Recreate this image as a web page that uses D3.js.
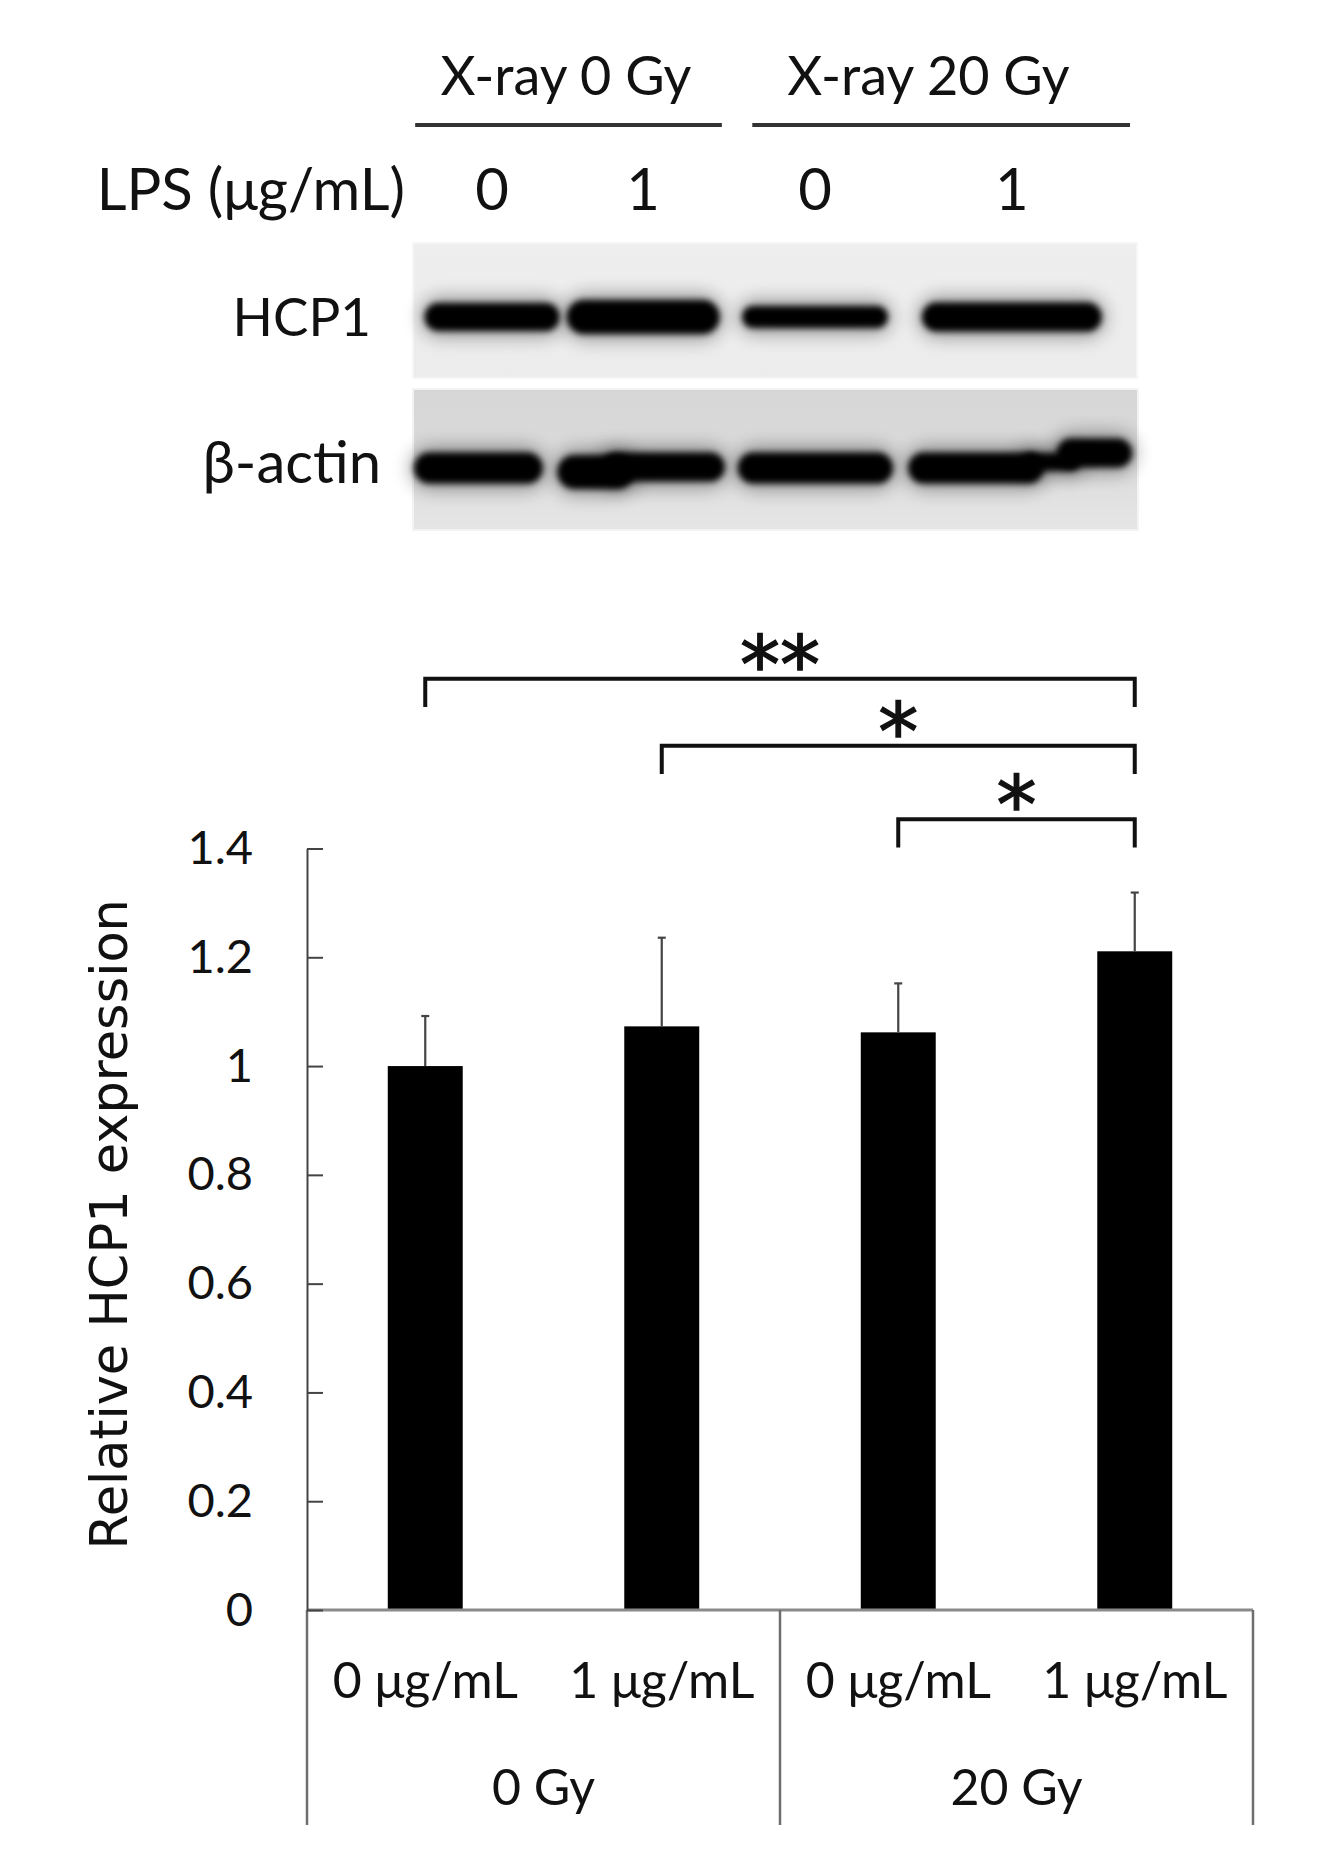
<!DOCTYPE html>
<html><head><meta charset="utf-8">
<script src="https://cdn.jsdelivr.net/npm/d3@7"></script>
<style>body{margin:0;background:#fff}svg{display:block}</style>
</head><body>
<script>
// ---------- chart data ----------
const categories = ["0 μg/mL", "1 μg/mL", "0 μg/mL", "1 μg/mL"];
const groups = ["0 Gy", "20 Gy"];
const values = [1.0, 1.073, 1.062, 1.211];
const errors = [0.092, 0.163, 0.090, 0.108];
const yTicks = [0, 0.2, 0.4, 0.6, 0.8, 1.0, 1.2, 1.4];
const yTickLabels = ["0", "0.2", "0.4", "0.6", "0.8", "1", "1.2", "1.4"];
const yLabel = "Relative HCP1 expression";
const sigFrom = [0, 1, 2];
const sigTo = [3, 3, 3];
const sigLevel = [1.712, 1.589, 1.454];
const sigText = ["**", "*", "*"];
// ---------- blot annotation ----------
const xrayHeaders = ["X-ray 0 Gy", "X-ray 20 Gy"];
const lpsLabel = "LPS (μg/mL)";
const lpsDoses = ["0", "1", "0", "1"];
const blotRows = ["HCP1", "β-actin"];
// band extents in % of blot width, thickness in px
const hcpStart = [1.6, 21.2, 45.4, 70.2];
const hcpEnd = [20.2, 42.3, 65.5, 95.0];
const hcpThick = [28, 34, 22, 29];
const actStart = [-1, 19.9, 26.0, 44.8, 68.3, 88.8];
const actEnd = [17.9, 30.5, 43.0, 66.2, 87.0, 99.2];
const actThick = [31, 34, 29, 31, 31, 29];
const actShift = [0, 4, -1, 0, 0, -15];

const W = 1317, H = 1853;
const FONT = "Lato, 'Open Sans', sans-serif";
const svg = d3.select("body").append("svg").attr("width", W).attr("height", H)
  .style("background", "#fff");

const defs = svg.append("defs");
defs.append("filter").attr("id", "blur").attr("x", "-20%").attr("y", "-80%").attr("width", "140%").attr("height", "260%")
  .append("feGaussianBlur").attr("stdDeviation", 3.4);
defs.append("filter").attr("id", "halo").attr("x", "-20%").attr("y", "-150%").attr("width", "140%").attr("height", "400%")
  .append("feGaussianBlur").attr("stdDeviation", 9);
const g1 = defs.append("linearGradient").attr("id", "bgH").attr("x1", 0).attr("y1", 0).attr("x2", 0).attr("y2", 1);
g1.append("stop").attr("offset", "0").attr("stop-color", "#eeeeee");
g1.append("stop").attr("offset", "1").attr("stop-color", "#ececec");
const g2 = defs.append("linearGradient").attr("id", "bgA").attr("x1", 0).attr("y1", 0).attr("x2", 0).attr("y2", 1);
g2.append("stop").attr("offset", "0").attr("stop-color", "#d6d6d6");
g2.append("stop").attr("offset", "0.45").attr("stop-color", "#dadada");
g2.append("stop").attr("offset", "1").attr("stop-color", "#e6e6e6");

// ---------- blot ----------
const blotX = d3.scaleLinear().domain([0, 100]).range([413, 1138]);
const hcpY = [243, 378], actY = [389, 530];
const hcpMid = 317, actMid = 468;

svg.append("rect").attr("x", blotX(0)).attr("y", hcpY[0]).attr("width", blotX(100) - blotX(0) - 1)
  .attr("height", hcpY[1] - hcpY[0]).attr("fill", "url(#bgH)").attr("stroke", "#f6f6f6").attr("stroke-width", 2);
svg.append("rect").attr("x", blotX(0)).attr("y", actY[0]).attr("width", blotX(100) - blotX(0))
  .attr("height", actY[1] - actY[0]).attr("fill", "url(#bgA)").attr("stroke", "#f3f3f3").attr("stroke-width", 2);

const blot = svg.append("g");
function band(x0, x1, cy, h) {
  blot.append("rect").attr("x", x0 - 4).attr("y", cy - h / 2 - 6).attr("width", x1 - x0 + 8).attr("height", h + 12)
    .attr("rx", (h + 12) / 2).attr("fill", "#000").attr("opacity", 0.35).attr("filter", "url(#halo)");
  blot.append("rect").attr("x", x0).attr("y", cy - h / 2).attr("width", x1 - x0).attr("height", h)
    .attr("rx", h / 2).attr("fill", "#000").attr("filter", "url(#blur)");
}
hcpStart.forEach((s, i) => band(blotX(s), blotX(hcpEnd[i]), hcpMid, hcpThick[i]));
actStart.forEach((s, i) => band(Math.max(blotX(s), blotX(0) + 1), blotX(actEnd[i]), actMid + actShift[i], actThick[i]));
band(blotX(84), blotX(92), actMid - 6, 18);

// headers
const headStart = [0.3, 46.8], headEnd = [42.6, 98.9], headMid = [21.1, 71.1];
xrayHeaders.forEach((t, i) => {
  svg.append("text").attr("x", blotX(headMid[i])).attr("y", 95).attr("text-anchor", "middle")
    .attr("font-family", FONT).attr("font-size", 54).attr("fill", "#111").text(t);
  svg.append("line").attr("x1", blotX(headStart[i])).attr("x2", blotX(headEnd[i])).attr("y1", 125).attr("y2", 125)
    .attr("stroke", "#333").attr("stroke-width", 4);
});
svg.append("text").attr("x", 405).attr("y", 210).attr("text-anchor", "end")
  .attr("font-family", FONT).attr("font-size", 58).attr("fill", "#111").text(lpsLabel);
lpsDoses.forEach((t, i) => {
  svg.append("text").attr("x", (blotX(hcpStart[i]) + blotX(hcpEnd[i])) / 2).attr("y", 210).attr("text-anchor", "middle")
    .attr("font-family", FONT).attr("font-size", 58).attr("fill", "#111").text(t);
});
svg.append("text").attr("x", 371).attr("y", 336).attr("text-anchor", "end")
  .attr("font-family", FONT).attr("font-size", 53).attr("fill", "#111").text(blotRows[0]);
svg.append("text").attr("x", 381).attr("y", 483).attr("text-anchor", "end")
  .attr("font-family", FONT).attr("font-size", 58).attr("fill", "#111").text(blotRows[1]);

// ---------- bar chart ----------
const x = d3.scaleBand().domain(d3.range(categories.length)).range([307, 1253])
  .paddingInner(0.683).paddingOuter(0.3415);
const y = d3.scaleLinear().domain([0, 1.4]).range([1610, 848.5]);
const step = x.step();
const x0 = x.range()[0], x1 = x.range()[1];

// bars
svg.append("g").selectAll("rect").data(values).join("rect")
  .attr("x", (d, i) => x(i)).attr("y", d => y(d))
  .attr("width", x.bandwidth()).attr("height", d => y(0) - y(d)).attr("fill", "#000");

// error bars (upper only)
const eb = svg.append("g").attr("stroke", "#444").attr("stroke-width", 2.2);
values.forEach((v, i) => {
  const cx = x(i) + x.bandwidth() / 2;
  eb.append("line").attr("x1", cx).attr("x2", cx).attr("y1", y(v)).attr("y2", y(v + errors[i]));
  eb.append("line").attr("x1", cx - 4).attr("x2", cx + 4).attr("y1", y(v + errors[i])).attr("y2", y(v + errors[i]));
});

// zero line / category table
svg.append("line").attr("x1", x0).attr("x2", x1).attr("y1", y(0)).attr("y2", y(0))
  .attr("stroke", "#8a8a8a").attr("stroke-width", 3);
const tableBottom = 1825;
[0, 2, 4].forEach(k => {
  svg.append("line").attr("x1", x0 + k * step).attr("x2", x0 + k * step).attr("y1", y(0)).attr("y2", tableBottom)
    .attr("stroke", "#6e6e6e").attr("stroke-width", 2.5);
});
categories.forEach((c, i) => {
  svg.append("text").attr("x", x(i) + x.bandwidth() / 2).attr("y", 1698).attr("text-anchor", "middle")
    .attr("font-family", FONT).attr("font-size", 50).attr("fill", "#111").text(c);
});
groups.forEach((g, k) => {
  svg.append("text").attr("x", x0 + (2 * k + 1) * step).attr("y", 1805).attr("text-anchor", "middle")
    .attr("font-family", FONT).attr("font-size", 50).attr("fill", "#111").text(g);
});

// y axis
const yAxis = d3.axisLeft(y).tickValues(yTicks).tickFormat((d, i) => yTickLabels[i])
  .tickSizeInner(-16).tickSizeOuter(0).tickPadding(54);
const ya = svg.append("g").attr("transform", `translate(${x0},0)`).call(yAxis);
ya.select(".domain").attr("stroke", "#444").attr("stroke-width", 2);
ya.selectAll(".tick line").attr("stroke", "#444").attr("stroke-width", 2);
ya.selectAll(".tick text").attr("font-family", FONT).attr("font-size", 47).attr("fill", "#111");

svg.append("text").attr("transform", `translate(127,${(y(0) + y(1.4)) / 2 - 5})rotate(-90)`)
  .attr("text-anchor", "middle").attr("font-family", "'DejaVu Sans', Verdana, sans-serif")
  .attr("font-size", 51).attr("fill", "#111").text(yLabel);

// significance brackets
const leg = 0.052;
const sg = svg.append("g");
sigFrom.forEach((a, k) => {
  const xa = x(a) + x.bandwidth() / 2, xb = x(sigTo[k]) + x.bandwidth() / 2;
  const yl = y(sigLevel[k]), yb = y(sigLevel[k] - leg);
  sg.append("path").attr("d", `M${xa},${yb}V${yl}H${xb}V${yb}`)
    .attr("fill", "none").attr("stroke", "#111").attr("stroke-width", 4);
  sg.append("text").attr("x", (xa + xb) / 2).attr("y", yl + 14).attr("text-anchor", "middle")
    .attr("font-family", "'DejaVu Sans', sans-serif").attr("font-size", 80)
    .attr("fill", "#111").attr("stroke", "#111").attr("stroke-width", 1.4).text(sigText[k]);
});
</script>
</body></html>
